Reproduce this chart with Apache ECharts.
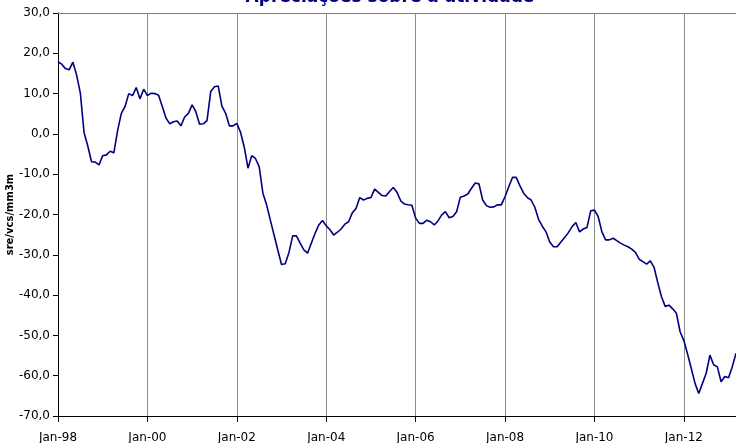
<!DOCTYPE html>
<html>
<head>
<meta charset="utf-8">
<script src="https://cdn.jsdelivr.net/npm/echarts@6/dist/echarts.min.js"></script>
<style>
  html, body { margin: 0; padding: 0; background: #fff; }
  #chart { width: 736px; height: 443px; }
</style>
</head>
<body>
<div id="chart"></div>
<script>
// monthly values, Jan-98 .. Mar-13
var valores = [
  17.9, 17.3, 16.2, 15.9, 17.8, 14.6, 10.1, 0.3, -3.0, -6.9, -7.0, -7.7,
  -5.4, -5.2, -4.3, -4.7, 0.8, 5.1, 6.8, 10.0, 9.5, 11.5, 8.7, 11.1,
  9.5, 10.1, 10.0, 9.6, 6.8, 3.9, 2.5, 3.0, 3.2, 2.0, 4.2, 5.1,
  7.2, 5.5, 2.4, 2.5, 3.3, 10.5, 11.7, 11.9, 6.9, 5.1, 2.0, 2.0,
  2.6, 0.4, -3.3, -8.5, -5.4, -6.1, -8.1, -14.7, -17.6, -21.4, -25.1, -28.8,
  -32.4, -32.2, -29.4, -25.3, -25.3, -27.1, -28.8, -29.6, -27.1, -24.7, -22.6, -21.5,
  -22.8, -23.8, -25.1, -24.4, -23.6, -22.4, -21.8, -19.6, -18.5, -15.8, -16.4, -16.0,
  -15.8, -13.7, -14.5, -15.3, -15.4, -14.3, -13.3, -14.5, -16.6, -17.4, -17.6, -17.7,
  -20.9, -22.2, -22.2, -21.4, -21.8, -22.6, -21.6, -20.1, -19.3, -20.8, -20.5, -19.3,
  -15.7, -15.4, -14.9, -13.5, -12.2, -12.4, -16.4, -17.8, -18.2, -18.1, -17.6, -17.6,
  -15.6, -13.1, -10.8, -10.8, -12.9, -14.7, -15.8, -16.4, -18.2, -21.2, -22.9, -24.3,
  -26.8, -28.0, -28.0, -26.8, -25.7, -24.5, -23.0, -22.0, -24.3, -23.6, -23.2, -19.1,
  -18.9, -20.5, -24.3, -26.3, -26.3, -25.9, -26.5, -27.1, -27.6, -28.0, -28.6, -29.4,
  -31.1, -31.7, -32.3, -31.5, -33.1, -36.9, -40.4, -42.8, -42.5, -43.4, -44.5, -49.1,
  -51.3, -54.6, -58.2, -61.9, -64.4, -61.9, -59.4, -54.9, -57.3, -57.8, -61.5, -60.2,
  -60.5, -57.8, -54.4
];
var meses = ['Jan', 'Feb', 'Mar', 'Apr', 'May', 'Jun', 'Jul', 'Aug', 'Sep', 'Oct', 'Nov', 'Dec'];
var anoInicial = 1998;
var titulo = 'Apreciações sobre a atividade';
var nomeEixo = 'sre/vcs/mm3m';

var categorias = [];
for (var i = 0; i < valores.length; i++) {
  var ano = anoInicial + Math.floor(i / 12);
  categorias.push(meses[i % 12] + '-' + String(ano).slice(2));
}

var cada2anos = function (idx) { return idx % 24 === 0; };
var fonte = 'DejaVu Sans, Verdana, sans-serif';

var chart = echarts.init(document.getElementById('chart'));
var option = {
  animation: false,
  title: {
    text: titulo,
    left: 385,
    top: -16,
    textAlign: 'center',
    textStyle: { color: '#000080', fontSize: 17, fontWeight: 'bold', fontFamily: fonte }
  },
  grid: { left: 58, top: 13, right: 0, bottom: 27, outerBoundsMode: 'none', containLabel: false },
  xAxis: [{
    type: 'category',
    data: categorias,
    boundaryGap: false,
    axisLine: { onZero: false, lineStyle: { color: '#000', width: 1 } },
    axisTick: { interval: cada2anos, length: 6, lineStyle: { color: '#000' } },
    axisLabel: { interval: cada2anos, margin: 16, color: '#000', fontSize: 12, fontFamily: fonte },
    splitLine: { show: true, interval: cada2anos, lineStyle: { color: '#8c8c8c', width: 1 } }
  }, {
    type: 'category',
    data: categorias,
    position: 'top',
    boundaryGap: false,
    axisLine: { onZero: false, lineStyle: { color: '#808080', width: 1 } },
    axisTick: { show: false },
    axisLabel: { show: false },
    splitLine: { show: false }
  }],
  yAxis: {
    type: 'value',
    min: -70,
    max: 30,
    interval: 10,
    name: nomeEixo,
    nameLocation: 'middle',
    nameGap: 43,
    nameMoveOverlap: false,
    nameTextStyle: { fontSize: 10, fontWeight: 'bold', color: '#000', fontFamily: fonte },
    axisLine: { show: true, lineStyle: { color: '#000', width: 1 } },
    axisTick: { show: true, length: 5, lineStyle: { color: '#000' } },
    axisLabel: {
      margin: 8,
      color: '#000',
      fontSize: 12,
      fontFamily: fonte,
      formatter: function (v) { return v.toFixed(1).replace('.', ','); }
    },
    splitLine: { show: false }
  },
  series: [{
    type: 'line',
    data: valores,
    showSymbol: false,
    lineStyle: { color: '#000080', width: 1.6 },
    itemStyle: { color: '#000080' }
  }]
};
chart.setOption(option);
window.addEventListener('resize', chart.resize);
</script>
</body>
</html>
